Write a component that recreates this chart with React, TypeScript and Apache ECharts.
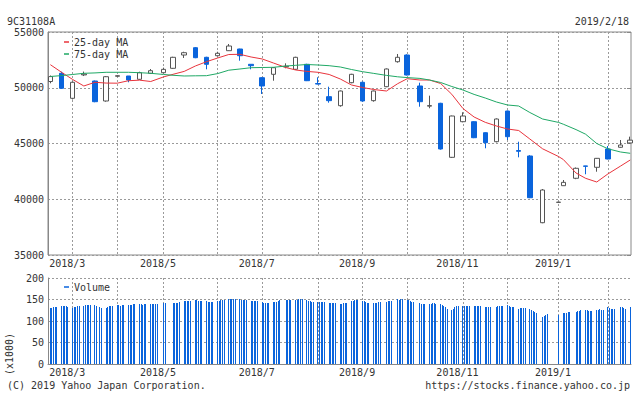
import React, { useEffect, useRef } from 'react';
import * as echarts from 'echarts';

const FONT_FAMILY = '"DejaVu Sans Mono", monospace';
const TITLE = '9C31108A';
const LAST_DATE = '2019/2/18';
const COPYRIGHT = '(C) 2019 Yahoo Japan Corporation.';
const SOURCE_URL = 'https://stocks.finance.yahoo.co.jp';
const VOLUME_UNIT = '(x1000)';

const AXIS_START = '2018-02-18';
const AXIS_END = '2019-02-18';
const FIRST_TRADING_DAY = '2018-02-19';

// Weekly candles (first trading day of each week)
const candleDates = [
  '2018-02-19', '2018-02-26', '2018-03-05', '2018-03-12', '2018-03-19', '2018-03-26',
  '2018-04-02', '2018-04-09', '2018-04-16', '2018-04-23', '2018-05-01', '2018-05-07',
  '2018-05-14', '2018-05-21', '2018-05-28', '2018-06-04', '2018-06-11', '2018-06-18',
  '2018-06-25', '2018-07-02', '2018-07-09', '2018-07-17', '2018-07-23', '2018-07-30',
  '2018-08-06', '2018-08-13', '2018-08-20', '2018-08-27', '2018-09-03', '2018-09-10',
  '2018-09-18', '2018-09-25', '2018-10-01', '2018-10-09', '2018-10-15', '2018-10-22',
  '2018-10-29', '2018-11-05', '2018-11-12', '2018-11-19', '2018-11-26', '2018-12-03',
  '2018-12-10', '2018-12-17', '2018-12-25', '2019-01-04', '2019-01-07', '2019-01-15',
  '2019-01-21', '2019-01-28', '2019-02-04', '2019-02-12', '2019-02-18',
];
const opens = [
  50560, 51296, 49054, 51150, 50605, 48812, 51030, 51054, 50758, 51296, 51350, 51744,
  52937, 53592, 52730, 52874, 53323, 53475, 52103, 50901, 51206, 51870, 51655, 52103,
  50380, 49200, 48390, 50453, 50490, 48842, 50094, 52336, 52937, 50157, 48350, 48605,
  43760, 46955, 46955, 45968, 45162, 47914, 44370, 43879, 37896, 39720, 41216, 41880,
  42990, 42865, 44507, 44660, 45050,
];
const closes = [
  51000, 49950, 50490, 51230, 48750, 50990, 51080, 50695, 51350, 51530, 51650, 52730,
  53143, 52695, 52103, 53090, 53744, 52874, 51978, 50157, 51800, 51930, 52730, 50632,
  50330, 48842, 49708, 51206, 48812, 49708, 51682, 52730, 51143, 48750, 48400, 44507,
  47466, 47466, 45520, 45071, 47197, 45610, 44300, 40138, 40829, 39740, 41516, 42776,
  42950, 43670, 43610, 44865, 45300,
];
const lows = [
  50400, 49900, 48950, 51050, 48700, 48750, 51000, 50490, 50700, 51250, 51300, 51700,
  52670, 52650, 51655, 52830, 53300, 52426, 51655, 49439, 50632, 51744, 51600, 50600,
  50300, 48660, 48300, 50400, 48750, 48750, 50050, 52250, 51100, 48300, 48160, 44450,
  43700, 46900, 45480, 44570, 45100, 45313, 43760, 40100, 37850, 39720, 41200, 41800,
  42240, 42470, 43580, 44620, 45000,
];
const highs = [
  51100, 51440, 50550, 51450, 50650, 51050, 51120, 51054, 51440, 51680, 51800, 52780,
  53230, 53650, 52780, 53230, 53924, 53500, 52103, 50950, 51850, 52190, 52780, 52150,
  50940, 50094, 49750, 51250, 50550, 49750, 51730, 53027, 53000, 50453, 49290, 48650,
  47500, 47800, 47000, 46000, 47250, 47950, 45161, 43950, 40919, 39740, 41726, 42850,
  43000, 43700, 44776, 45313, 45613,
];
// Moving averages read at the candle dates
const ma25 = [
  52067, 51386, 50740, 50157, 50490, 50420, 50410, 50630, 50680, 50560, 50970, 51206,
  51466, 51950, 52336, 52668, 52982, 53000, 52758, 52580, 52220, 51807, 51592, 51466,
  51386, 51190, 50785, 50250, 50022, 49843, 49708, 50363, 50812, 50695, 50695, 50380,
  49412, 48138, 47376, 46900, 46570, 46300, 46165, 45403, 44524, 43834, 43565, 42354,
  41879, 41547, 42270, 42982, 43520,
];
const ma75 = [
  51010, 51090, 51190, 51296, 51330, 51386, 51386, 51386, 51350, 51296, 51190, 51117,
  51054, 51072, 51081, 51270, 51574, 51682, 51798, 51816, 51834, 51950, 52013, 52085,
  52040, 51978, 51861, 51637, 51440, 51287, 51108, 50982, 50910, 50839, 50695, 50471,
  50112, 49798, 49403, 49080, 48722, 48453, 48363, 47780, 47197, 46892, 46730, 46246,
  45834, 45000, 44524, 44237, 44121,
];

const holidays = [
  '2018-03-21', '2018-04-30', '2018-05-03', '2018-05-04', '2018-07-16', '2018-09-17',
  '2018-09-24', '2018-10-08', '2018-11-23', '2018-12-24', '2018-12-31', '2019-01-01',
  '2019-01-02', '2019-01-03', '2019-01-14', '2019-02-11',
];

// Daily volume (x1000), one line per week
const volumes = [
  131, 131, 132, 132, 132,
  135, 135, 134, 135, 132,
  131, 132, 133, 134, 135,
  135, 137, 138, 137, 137,
  137, 135, 133, 131,
  131, 133, 135, 135, 136,
  137, 137, 136, 137, 137,
  137, 137, 138, 139, 139,
  139, 139, 138, 139, 139,
  139, 139, 139, 139, 139,
  141, 141,
  142, 142, 143, 143, 144,
  147, 147, 147, 146, 147,
  148, 148, 147, 147, 147,
  147, 145, 144, 144, 144,
  147, 147, 148, 148, 148,
  152, 152, 151, 152, 152,
  152, 150, 148, 148, 148,
  147, 147, 147, 147, 147,
  144, 143, 142, 142, 141,
  144, 144, 145, 146, 148,
  148, 148, 148, 148,
  148, 150, 152, 152, 152,
  148, 147, 147, 145, 144,
  145, 145, 145, 145, 145,
  141, 142, 142, 141, 141,
  139, 140, 141, 142, 142,
  147, 147, 148, 150, 150,
  147, 146, 144, 143, 142,
  141, 142, 142, 144, 145,
  145, 147, 147, 147,
  152, 150, 151, 152,
  150, 149, 147, 145, 144,
  142, 140, 139, 139,
  139, 140, 142, 141, 139,
  139, 138, 136, 132, 129,
  125, 128, 133, 135, 136,
  136, 136, 136, 136, 136,
  135, 135, 135, 135, 135,
  133, 132, 132, 132,
  133, 134, 135, 136, 136,
  138, 136, 133, 132, 132,
  129, 130, 131, 131, 131,
  128, 126, 124, 121, 118,
  110, 112, 114, 116,
  114,
  118, 118, 118, 120, 122,
  122, 123, 124, 125,
  125, 125, 124, 124, 124,
  125, 126, 127, 126, 125,
  132, 131, 129, 129, 129,
  132, 132, 131, 129,
  132,
];

const PRICE_MIN = 35000;
const PRICE_MAX = 55000;
const PRICE_STEP = 5000;
const VOL_MIN = 0;
const VOL_MAX = 200;
const VOL_STEP = 50;

const BLUE = '#0a64dc';
const RED = '#e8343c';
const GREEN = '#1fa865';
const AXIS_GRAY = '#888888';
const GRID_GRAY = '#9a9a9a';
const TEXT = '#333333';

const DAY = 86400000;
const iso = (t: number) => new Date(t).toISOString().slice(0, 10);
const parse = (s: string) => Date.UTC(+s.slice(0, 4), +s.slice(5, 7) - 1, +s.slice(8, 10));

const days: string[] = [];
for (let t = parse(AXIS_START); t <= parse(AXIS_END); t += DAY) days.push(iso(t));

const holidaySet = new Set(holidays);
const tradingDays: string[] = [];
for (let t = parse(FIRST_TRADING_DAY); t <= parse(AXIS_END); t += DAY) {
  const wd = new Date(t).getUTCDay();
  const s = iso(t);
  if (wd !== 0 && wd !== 6 && !holidaySet.has(s)) tradingDays.push(s);
}

const gridDates = new Set<string>();
const labelDates = new Set<string>();
candleDates.forEach((d, i) => {
  if (i > 0 && d.slice(5, 7) !== candleDates[i - 1].slice(5, 7)) {
    gridDates.add(d);
    if (+d.slice(5, 7) % 2 === 1) labelDates.add(d);
  }
});

const fmtMonth = (v: string) => `${v.slice(0, 4)}/${+v.slice(5, 7)}`;

function xAxisFor(gridIndex: number, showLine: boolean) {
  return {
    type: 'category',
    gridIndex,
    data: days,
    boundaryGap: true,
    axisLine: { show: showLine, lineStyle: { color: AXIS_GRAY, width: 1 } },
    axisTick: { show: false },
    axisLabel: {
      show: true,
      interval: (_i: number, v: string) => labelDates.has(v),
      formatter: fmtMonth,
      margin: 3,
      color: TEXT,
      fontFamily: FONT_FAMILY,
      fontSize: 10,
      padding: [0, 11, 0, 0],
    },
    splitLine: {
      show: true,
      alignWithLabel: true,
      interval: (_i: number, v: string) => gridDates.has(v),
      lineStyle: { color: GRID_GRAY, type: [2, 2], width: 1 },
    },
  };
}

const yLabel = {
  margin: 4,
  color: TEXT,
  fontFamily: FONT_FAMILY,
  fontSize: 10,
  formatter: (v: number) => String(v),
};

const option: any = {
  animation: false,
  backgroundColor: '#ffffff',
  textStyle: { fontFamily: FONT_FAMILY },
  grid: [
    { left: 48, top: 32, width: 583, height: 223, show: true, borderColor: AXIS_GRAY, borderWidth: 1, backgroundColor: 'transparent' },
    { left: 48, top: 278, width: 583, height: 86 },
  ],
  legend: [
    {
      data: ['25-day MA', '75-day MA'],
      orient: 'vertical',
      left: 59,
      top: 31,
      icon: 'rect',
      itemWidth: 5,
      itemHeight: 1.5,
      itemGap: 0,
      textStyle: { fontFamily: FONT_FAMILY, fontSize: 10, color: TEXT, lineHeight: 12 },
      selectedMode: false,
    },
    {
      data: ['Volume'],
      orient: 'vertical',
      left: 59,
      top: 276,
      icon: 'rect',
      itemWidth: 5,
      itemHeight: 1.5,
      textStyle: { fontFamily: FONT_FAMILY, fontSize: 10, color: TEXT, lineHeight: 12 },
      selectedMode: false,
    },
  ],
  xAxis: [xAxisFor(0, false), xAxisFor(1, true)],
  yAxis: [
    {
      type: 'value', gridIndex: 0, min: PRICE_MIN, max: PRICE_MAX, interval: PRICE_STEP,
      axisLine: { show: true, lineStyle: { color: AXIS_GRAY } },
      axisTick: { show: false },
      axisLabel: yLabel,
      splitLine: { show: true, lineStyle: { color: GRID_GRAY, type: [2, 2] } },
    },
    {
      type: 'value', gridIndex: 0, position: 'right', min: PRICE_MIN, max: PRICE_MAX, interval: PRICE_STEP,
      axisLine: { show: false },
      axisTick: { show: true, inside: true, length: 4, lineStyle: { color: AXIS_GRAY } },
      axisLabel: { show: false },
      splitLine: { show: false },
    },
    {
      type: 'value', gridIndex: 1, min: VOL_MIN, max: VOL_MAX, interval: VOL_STEP,
      axisLine: { show: true, lineStyle: { color: AXIS_GRAY } },
      axisTick: { show: false },
      axisLabel: yLabel,
      splitLine: { show: true, lineStyle: { color: GRID_GRAY, type: [2, 2] } },
    },
  ],
  series: [
    {
      type: 'candlestick',
      name: 'Price',
      xAxisIndex: 0,
      yAxisIndex: 0,
      encode: { x: 0, y: [1, 2, 3, 4] },
      data: candleDates.map((d, i) => [d, opens[i], closes[i], lows[i], highs[i]]),
      barWidth: 5,
      itemStyle: {
        color: '#ffffff',
        color0: BLUE,
        borderColor: '#555555',
        borderColor0: BLUE,
        borderWidth: 1,
      },
      z: 2,
    },
    {
      type: 'line',
      name: '25-day MA',
      xAxisIndex: 0,
      yAxisIndex: 0,
      data: candleDates.map((d, i) => [d, ma25[i]]),
      symbol: 'none',
      color: RED,
      lineStyle: { color: RED, width: 1 },
      z: 3,
    },
    {
      type: 'line',
      name: '75-day MA',
      xAxisIndex: 0,
      yAxisIndex: 0,
      data: candleDates.map((d, i) => [d, ma75[i]]),
      symbol: 'none',
      color: GREEN,
      lineStyle: { color: GREEN, width: 1 },
      z: 3,
    },
    {
      type: 'custom',
      name: 'Volume',
      xAxisIndex: 1,
      yAxisIndex: 2,
      color: BLUE,
      itemStyle: { color: BLUE },
      encode: { x: 0, y: 1 },
      data: tradingDays.slice(0, volumes.length).map((d, i) => [d, volumes[i]]),
      renderItem: (_params: any, api: any) => {
        const top = api.coord([api.value(0), api.value(1)]);
        const base = api.coord([api.value(0), 0]);
        const x = Math.floor(top[0]);
        const y = Math.round(top[1]);
        return {
          type: 'rect',
          shape: { x, y, width: 1, height: Math.round(base[1]) - y },
          style: { fill: BLUE },
        };
      },
    },
  ],
  graphic: [
    { type: 'text', x: 7, y: 21, style: { text: TITLE, font: `10px ${FONT_FAMILY}`, fill: TEXT, align: 'left', verticalAlign: 'middle', textAlign: 'left', textVerticalAlign: 'middle' } },
    { type: 'text', x: 629, y: 21, style: { text: LAST_DATE, font: `10px ${FONT_FAMILY}`, fill: TEXT, align: 'right', verticalAlign: 'middle', textAlign: 'right', textVerticalAlign: 'middle' } },
    { type: 'text', x: 7, y: 385, style: { text: COPYRIGHT, font: `10px ${FONT_FAMILY}`, fill: TEXT, align: 'left', verticalAlign: 'middle', textAlign: 'left', textVerticalAlign: 'middle' } },
    { type: 'text', x: 630, y: 385, style: { text: SOURCE_URL, font: `10px ${FONT_FAMILY}`, fill: TEXT, align: 'right', verticalAlign: 'middle', textAlign: 'right', textVerticalAlign: 'middle' } },
    { type: 'text', x: 9, y: 354, rotation: Math.PI / 2, style: { text: VOLUME_UNIT, font: `10px ${FONT_FAMILY}`, fill: TEXT, align: 'center', verticalAlign: 'middle', textAlign: 'center', textVerticalAlign: 'middle' } },
  ],
};

export default function App() {
  const ref = useRef<HTMLDivElement>(null);
  useEffect(() => {
    if (!ref.current) return;
    const chart = echarts.init(ref.current, null, { renderer: 'svg' });
    chart.setOption(option);
    return () => chart.dispose();
  }, []);
  return (
    <div
      ref={ref}
      style={{ position: 'fixed', left: 0, top: 0, width: 634, height: 394, background: '#fff' }}
    />
  );
}
